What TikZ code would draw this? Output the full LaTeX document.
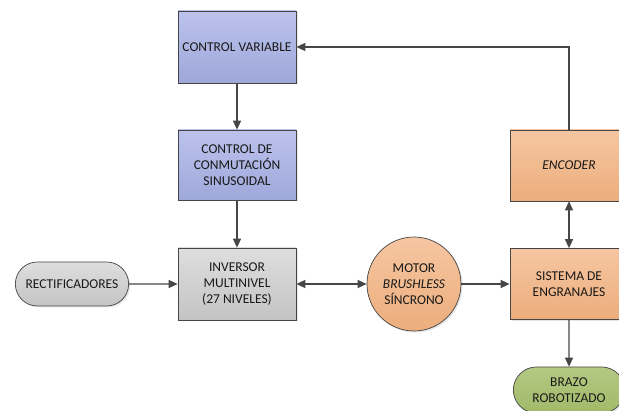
\documentclass[tikz,border=0pt]{standalone}
\usepackage{fontspec}
\setmainfont{Carlito}
\usetikzlibrary{arrows.meta,shapes.misc,shadows}
\definecolor{edge}{RGB}{70,70,70}
\definecolor{blueT}{RGB}{188,194,236}
\definecolor{blueB}{RGB}{158,168,218}
\definecolor{orT}{RGB}{246,198,162}
\definecolor{orB}{RGB}{236,174,124}
\definecolor{grT}{RGB}{222,222,222}
\definecolor{grB}{RGB}{196,196,196}
\definecolor{gnT}{RGB}{180,200,130}
\definecolor{gnB}{RGB}{160,186,105}
\tikzset{
  base/.style={draw=edge, line width=0.7pt, text=black!90, align=center, font=\fontsize{13.5}{16}\selectfont,
    drop shadow={shadow xshift=1.5pt, shadow yshift=-1.5pt, fill=black!20}},
  bluebox/.style={base, minimum width=118pt, minimum height=72pt, top color=blueT, bottom color=blueB},
  orbox/.style={base, minimum width=118pt, minimum height=71pt, top color=orT, bottom color=orB},
  graybox/.style={base, minimum width=118pt, minimum height=72pt, top color=grT, bottom color=grB},
  pill/.style={base, rounded rectangle, minimum height=44pt},
  conn/.style={draw=edge, line width=1.4pt, -{Triangle[length=9pt,width=8pt]}},
  dconn/.style={draw=edge, line width=1.4pt, {Triangle[length=9pt,width=8pt]}-{Triangle[length=9pt,width=8pt]}}
}
\begin{document}
\begin{tikzpicture}[x=1pt,y=-1pt]
\useasboundingbox (0,0) rectangle (619,411);
\node[bluebox] (cv) at (237,47) {CONTROL VARIABLE};
\node[bluebox, minimum height=70pt] (cdc) at (237,165) {CONTROL DE\\CONMUTACIÓN\\SINUSOIDAL};
\node[graybox] (inv) at (237,284) {INVERSOR\\MULTINIVEL\\(27 NIVELES)};
\node[pill, minimum width=120pt, top color=grT, bottom color=grB] (rect) at (72,284) {RECTIFICADORES};
\node[base, circle, minimum size=94pt, inner sep=0pt, top color=orT, bottom color=orB] (mot) at (414,284) {MOTOR\\\textit{BRUSHLESS}\\SÍNCRONO};
\node[orbox] (sis) at (569,284) {SISTEMA DE\\ENGRANAJES};
\node[orbox] (enc) at (569,165.5) {\textit{ENCODER}};
\node[pill, minimum width=118pt, minimum height=46pt, top color=gnT, bottom color=gnB] (bra) at (569,390) {BRAZO\\ROBOTIZADO};
\coordinate (corner) at (569,47);
\draw[conn] (cv) -- (cdc);
\draw[conn] (cdc) -- (inv);
\draw[conn] (rect) -- (inv);
\draw[dconn] (inv) -- (mot);
\draw[conn] (mot) -- (sis);
\draw[dconn] (enc) -- (sis);
\draw[conn] (sis) -- (bra);
\draw[conn] (enc.north) -- (corner) -- (cv.east);
\end{tikzpicture}
\end{document}
